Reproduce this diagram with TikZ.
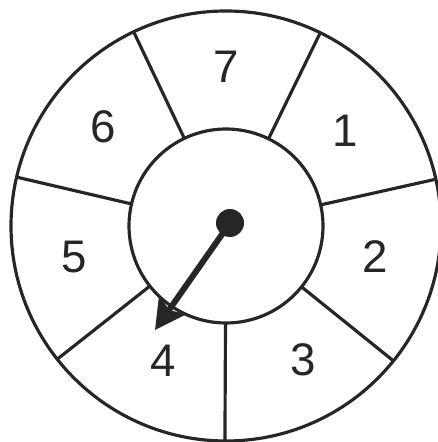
\documentclass[tikz,border=0pt]{standalone}
\usepackage{fontspec}
\setmainfont{Liberation Sans}
\usetikzlibrary{arrows.meta}

\tikzset{
  wheel/.style={draw=black!85, line width=1.8pt},
  numlabel/.style={text=black!85, font=\fontsize{26}{31}\selectfont, inner sep=0pt}
}

\begin{document}
\begin{tikzpicture}[x=0.02cm, y=0.02cm]
        \useasboundingbox (-226,-216) rectangle (211,226);

        % Wheel
        \coordinate (O) at (0,0);
        \draw[wheel] (O) circle [radius=215];
        \draw[wheel] (O) circle [radius=97];

        % Spokes
        \foreach \k in {0,...,6}
          \draw[wheel] ({64+\k*360/7}:97) -- ({64+\k*360/7}:215);

        % Numbers
        \foreach \n/\a/\r in {7/90/159, 1/38.6/152, 2/-11.5/152, 3/-60/154, 4/-115/149, 5/191.5/155, 6/141/158}
          \node[numlabel] (n\n) at (\a:\r) {\n};

        % Pointer
        \coordinate (pivot) at (4,3);
        \coordinate (tip) at (-71,-104);
        \draw[draw=black!85, line width=3.4pt, -{Stealth[length=17pt, width=18pt, inset=3pt]}] (pivot) -- (tip);
        \fill[black!85] (pivot) circle [radius=14];
\end{tikzpicture}
\end{document}
